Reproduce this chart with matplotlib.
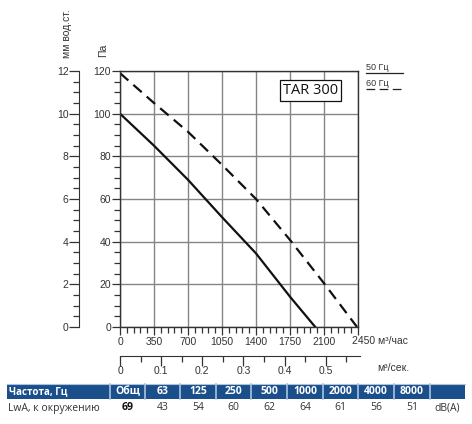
import numpy as np
import matplotlib.pyplot as plt
from matplotlib.patches import Rectangle
from matplotlib.ticker import MultipleLocator

plt.rcParams['font.family'] = ['Liberation Sans', 'DejaVu Sans']

# fan curve TAR 300, flow m3/h -> static pressure Pa
flow_50 = [0, 350, 700, 1050, 1400, 1750, 2010]
pa_50 = [100, 85, 69, 51.5, 34.5, 14.2, 0]
flow_60 = [0, 350, 700, 1050, 1400, 1750, 2100, 2440]
pa_60 = [119, 105, 91.5, 76, 60, 40.8, 20.5, 0]

flow_ticks = [0, 350, 700, 1050, 1400, 1750, 2100, 2450]
freq_labels = ['Общ', '63', '125', '250', '500', '1000', '2000', '4000', '8000', '']
lwa_values = ['69', '43', '54', '60', '62', '64', '61', '56', '51', 'dB(A)']

W, H = 472, 424
fig = plt.figure(figsize=(W / 100, H / 100), dpi=100)


def fr(x0, y0, x1, y1):
    # pixel box -> figure fraction rect
    return [x0 / W, 1 - y1 / H, (x1 - x0) / W, (y1 - y0) / H]


tc = '#333333'
fs = 7.5
ax = fig.add_axes(fr(120, 71, 358, 327))
ax.plot(flow_50, pa_50, color='#111111', lw=1.6)
ax.plot(flow_60, pa_60, color='#111111', lw=1.6, dashes=(5, 3))
ax.set_xlim(0, 2450)
ax.set_ylim(0, 120)
ax.set_xticks(flow_ticks)
# last label is written together with the unit below
ax.set_xticklabels([str(v) for v in flow_ticks[:-1]] + [''])
ax.xaxis.set_minor_locator(MultipleLocator(70))
ax.yaxis.set_major_locator(MultipleLocator(20))
ax.yaxis.set_minor_locator(MultipleLocator(5))
ax.grid(True, which='major', color='#858585', lw=1.0)
for s in ax.spines.values():
    s.set_color('#333333')
    s.set_linewidth(1.0)
ax.tick_params(axis='both', which='major', labelsize=fs, colors=tc, length=6, width=0.9)
ax.tick_params(axis='both', which='minor', length=4, width=0.9, colors=tc)
ax.tick_params(axis='x', pad=1.5)
ax.tick_params(axis='y', pad=0.5)
ax.text(0.974, -0.055, f'{flow_ticks[-1]} м³/час', transform=ax.transAxes, fontsize=fs,
        color=tc, ha='left', va='center')
ax.text(-0.072, 1.08, 'Па', transform=ax.transAxes, fontsize=fs, color=tc,
        rotation=90, ha='center', va='center')
ax.text(1957, 111, 'TAR 300', fontsize=10.5, family=['Open Sans', 'DejaVu Sans'],
        ha='center', va='center', color='#111111',
        bbox=dict(boxstyle='square,pad=0.2', fc='white', ec='#111111', lw=0.9))

# mm water column axis
axm = fig.add_axes(fr(79, 71, 80, 327))
axm.set_ylim(0, 12)
axm.set_xticks([])
for k in ['top', 'right', 'bottom']:
    axm.spines[k].set_visible(False)
axm.spines['left'].set_color('#333333')
axm.patch.set_alpha(0)
axm.yaxis.set_major_locator(MultipleLocator(2))
axm.yaxis.set_minor_locator(MultipleLocator(0.5))
axm.tick_params(axis='y', which='major', labelsize=fs, colors=tc, length=7, width=0.9, pad=0.5)
axm.tick_params(axis='y', which='minor', length=4, width=0.9, colors=tc)
axm.text(-12, 12.6, 'мм вод.ст.', transform=axm.get_yaxis_transform(), fontsize=fs,
         color=tc, rotation=90, ha='center', va='bottom')

# m3/s axis
axs = fig.add_axes(fr(120, 355, 360, 356))
axs.set_xlim(0, 0.583)
axs.set_yticks([])
for k in ['top', 'right', 'left']:
    axs.spines[k].set_visible(False)
axs.spines['bottom'].set_color('#333333')
axs.patch.set_alpha(0)
axs.set_xticks(np.arange(0.05, 0.56, 0.1), minor=True)
axs.set_xticks(np.arange(0, 0.51, 0.1))
axs.set_xticklabels(['0', '0.1', '0.2', '0.3', '0.4', '0.5'])
axs.tick_params(axis='x', which='major', labelsize=fs, colors=tc, length=7, width=0.9, pad=0.5)
axs.tick_params(axis='x', which='minor', length=4, width=0.9, colors=tc)

# overlay for legend and table in pixel coords
ov = fig.add_axes([0, 0, 1, 1])
ov.set_xlim(0, W)
ov.set_ylim(H, 0)
ov.axis('off')
ov.patch.set_alpha(0)
ov.text(377, 368, 'м³/сек.', fontsize=fs, color=tc, ha='left', va='center')

ov.text(366, 67, '50 Гц', fontsize=6.5, color=tc, ha='left', va='center')
ov.plot([366, 403], [73, 73], color='#222222', lw=0.9)
ov.text(366, 83, '60 Гц', fontsize=6.5, color=tc, ha='left', va='center')
ov.plot([366, 403], [89, 89], color='#222222', lw=0.9, dashes=(7, 3.5))

blue = '#1b4f8c'
col_x = [7, 110, 145, 180, 216, 251, 287, 323, 358, 394, 430, 465]
ov.add_patch(Rectangle((7, 384), 458, 15, fc=blue, ec='none'))
for x in col_x[1:-1]:
    ov.plot([x, x], [384, 399], color='#a9c3de', lw=1.2)
ov.plot([7, 465], [384, 384], color='#a9c3de', lw=0.8)
ov.text(9, 391.5, 'Частота, Гц', fontsize=7, color='white', weight='bold',
        family=['Open Sans', 'DejaVu Sans'], ha='left', va='center')
ov.text(8, 408, 'LwA, к окружению', fontsize=7.5, color='#333333',
        family=['Open Sans', 'DejaVu Sans'], ha='left', va='center')
for i, (lab, val) in enumerate(zip(freq_labels, lwa_values)):
    cx = (col_x[i + 1] + col_x[i + 2]) / 2
    ov.text(cx, 391.5, lab, fontsize=7.5, color='white', weight='bold',
            family=['Open Sans', 'DejaVu Sans'], ha='center', va='center')
    ov.text(cx, 408, val, fontsize=7.5, color='#111111' if i == 0 else '#333333',
            weight='bold' if i == 0 else 'normal',
            family=['Open Sans', 'DejaVu Sans'], ha='center', va='center')

fig.savefig('out.png', dpi=100)
